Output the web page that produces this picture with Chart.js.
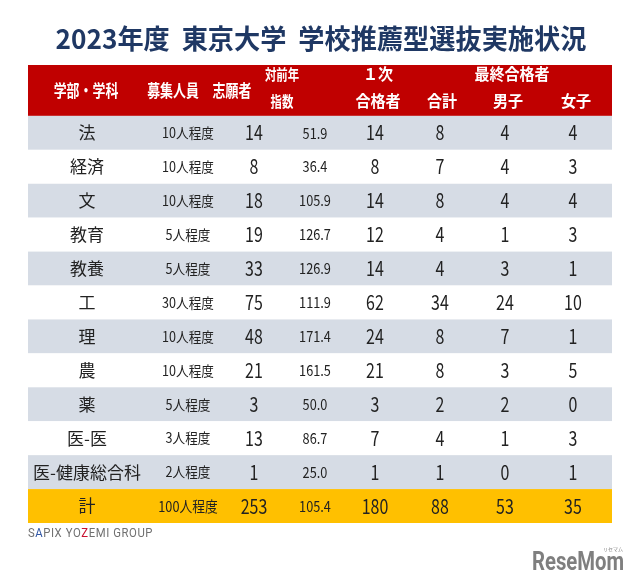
<!DOCTYPE html>
<html>
<head>
<meta charset="utf-8">
<script src="https://cdn.jsdelivr.net/npm/chart.js@4.4.1/dist/chart.umd.min.js"></script>
<style>
  html, body { margin: 0; padding: 0; background: #fff; }
  #wrap { width: 640px; height: 586px; }
</style>
</head>
<body>
<div id="wrap"><canvas id="table" width="640" height="586"></canvas></div>
<script>
// --- data ---
const TITLE = '2023年度  東京大学  学校推薦型選抜実施状況'
const FACULTIES = ['法', '経済', '文', '教育', '教養', '工', '理', '農', '薬', '医-医', '医-健康総合科', '計']
const QUOTA = ['10人程度', '10人程度', '10人程度', '5人程度', '5人程度', '30人程度', '10人程度', '10人程度', '5人程度', '3人程度', '2人程度', '100人程度']
const APPLICANTS = [14, 8, 18, 19, 33, 75, 48, 21, 3, 13, 1, 253]
const RATIO = ['51.9', '36.4', '105.9', '126.7', '126.9', '111.9', '171.4', '161.5', '50.0', '86.7', '25.0', '105.4']
const FIRST_PASS = [14, 8, 14, 12, 14, 62, 24, 21, 3, 7, 1, 180]
const FINAL_TOTAL = [8, 7, 8, 4, 4, 34, 8, 8, 2, 4, 1, 88]
const FINAL_MALE = [4, 4, 4, 1, 3, 24, 7, 3, 2, 1, 0, 53]
const FINAL_FEMALE = [4, 3, 4, 3, 1, 10, 1, 5, 0, 3, 1, 35]

const HEADER_MID = ['学部・学科', '募集人員', '志願者', '', '', '', '', '']
const HEADER_TOP = ['', '', '', '対前年', '１次', '', '最終合格者', '']
const HEADER_BOTTOM = ['', '', '', '指数', '合格者', '合計', '男子', '女子']

const COLUMNS = [FACULTIES, QUOTA, APPLICANTS, RATIO, FIRST_PASS, FINAL_TOTAL, FINAL_MALE, FINAL_FEMALE]

// --- layout / styles ---
const RED = '#c00000'
const GRAY = '#d6dce5'
const YELLOW = '#ffc000'
const NAVY = '#1f3864'
const INK = '#222222'
const FONT = "'Noto Sans CJK JP', 'Noto Sans', sans-serif"

const TABLE_W = 584
const HEADER_H = 1.5
const CELL_X = [59, 160, 226, 287, 347, 412, 477, 545]
const HEAD_X = [58, 145, 204, 254, 350, 414, 484, 548]
const HEAD_BOTTOM_X = [58, 145, 204, 254, 350, 414, 480, 548]
const CELL_STYLE = [
  { size: 17, sx: 1 },
  { size: 14, sx: 0.9 },
  { size: 20, sx: 0.8 },
  { size: 15, sx: 0.85 },
  { size: 20, sx: 0.8 },
  { size: 20, sx: 0.8 },
  { size: 20, sx: 0.8 },
  { size: 20, sx: 0.8 },
]

const ROWS = FACULTIES.length
const cells = []
COLUMNS.forEach((col, c) => {
  col.forEach((v, r) => {
    cells.push({ x: CELL_X[c], y: HEADER_H + r + 0.5, text: String(v), row: r, col: c })
  })
})

function drawText(ctx, text, x, y, font, color, sx) {
  if (!text) return
  ctx.save()
  ctx.font = font
  ctx.fillStyle = color
  ctx.textAlign = 'center'
  ctx.textBaseline = 'middle'
  ctx.translate(x, y)
  ctx.scale(sx, 1)
  ctx.fillText(text, 0, 0)
  ctx.restore()
}

const tablePlugin = {
  id: 'table',
  beforeDatasetsDraw(chart) {
    const { ctx, scales: { x, y } } = chart
    const left = x.getPixelForValue(0)
    const right = x.getPixelForValue(TABLE_W)
    ctx.save()
    ctx.fillStyle = RED
    ctx.fillRect(left, y.getPixelForValue(0), right - left, y.getPixelForValue(HEADER_H) - y.getPixelForValue(0))
    for (let r = 0; r < ROWS; r++) {
      const top = y.getPixelForValue(HEADER_H + r)
      const bot = y.getPixelForValue(HEADER_H + r + 1)
      ctx.fillStyle = r === ROWS - 1 ? YELLOW : (r % 2 === 0 ? GRAY : '#ffffff')
      ctx.fillRect(left, top, right - left, bot - top)
    }
    ctx.restore()

    // header labels
    for (let c = 0; c < HEADER_MID.length; c++) {
      const small = c === 3
      drawText(ctx, HEADER_MID[c], x.getPixelForValue(HEAD_X[c]), y.getPixelForValue(0.75),
        `bold 17px ${FONT}`, '#fff', 0.76)
      drawText(ctx, HEADER_TOP[c], x.getPixelForValue(HEAD_X[c]), y.getPixelForValue(0.27),
        `bold ${small ? 15 : 16}px ${FONT}`, '#fff', small ? 0.76 : 0.94)
      drawText(ctx, HEADER_BOTTOM[c], x.getPixelForValue(HEAD_BOTTOM_X[c]), y.getPixelForValue(1.07),
        `bold ${small ? 15 : 16}px ${FONT}`, '#fff', small ? 0.76 : 0.94)
    }
  },
  afterDatasetsDraw(chart) {
    const { ctx } = chart
    const meta = chart.getDatasetMeta(0)
    meta.data.forEach((pt, i) => {
      const cell = chart.data.datasets[0].data[i]
      const st = CELL_STYLE[cell.col]
      let size = st.size, sx = st.sx
      if (cell.col === 1 && cell.row === ROWS - 1) { size = 15; sx = 0.85 }
      drawText(ctx, cell.text, pt.x, pt.y, `${size}px ${FONT}`, INK, sx)
    })

    // title
    drawText(ctx, TITLE, 321, 39, `bold 27px ${FONT}`, NAVY, 0.97)

    // footer
    ctx.save()
    ctx.font = `12px Roboto, sans-serif`
    ctx.textBaseline = 'middle'
    const label = 'SAPIX YOZEMI GROUP'
    const gap = 0.6
    let natural = 0
    for (const ch of label) natural += ctx.measureText(ch).width + gap
    const k = 125 / natural
    ctx.translate(28, 534)
    ctx.scale(k, 1)
    let fx = 0
    let idx = 0
    for (const ch of label) {
      ctx.fillStyle = idx === 1 ? '#2f55a4' : (ch === 'Z' ? '#c8102e' : '#707070')
      ctx.fillText(ch, fx, 0)
      fx += ctx.measureText(ch).width + gap
      idx++
    }
    ctx.restore()

    // logo
    drawText(ctx, 'ReseMom', 578, 563, `bold 26px Roboto, sans-serif`, '#7f7f7f', 0.78)
    drawText(ctx, 'リセマム', 613, 549, `5px ${FONT}`, '#7f7f7f', 1)
  },
}

new Chart(document.getElementById('table'), {
  type: 'scatter',
  data: {
    datasets: [{ data: cells, pointRadius: 0, pointHoverRadius: 0 }],
  },
  options: {
    responsive: false,
    animation: false,
    events: [],
    layout: { padding: { left: 28, right: 28, top: 65, bottom: 63 } },
    scales: {
      x: { type: 'linear', display: false, min: 0, max: TABLE_W },
      y: { type: 'linear', display: false, min: 0, max: HEADER_H + ROWS, reverse: true },
    },
    plugins: {
      legend: { display: false },
      tooltip: { enabled: false },
    },
  },
  plugins: [tablePlugin],
})
</script>
</body>
</html>
